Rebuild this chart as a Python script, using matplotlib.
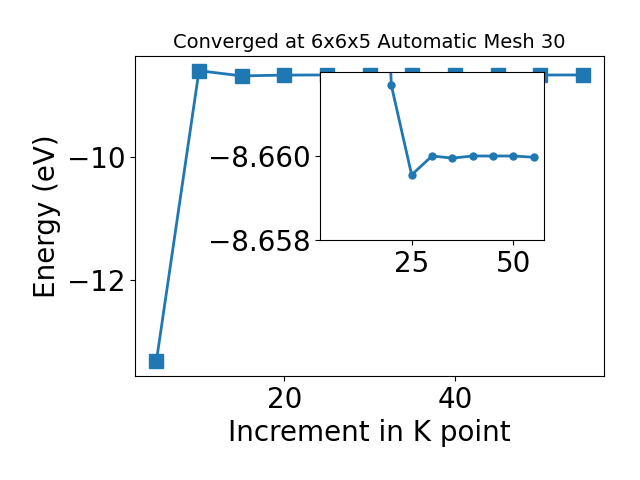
import matplotlib
matplotlib.use("Agg")
import matplotlib.pyplot as plt

# k-point increments and total energies (eV)
kpoints = [5, 10, 15, 20, 25, 30, 35, 40, 45, 50, 55]
energy = [-13.33, -8.59, -8.675, -8.66169, -8.65955, -8.66000,
          -8.65995, -8.66000, -8.66000, -8.66000, -8.65997]

fig = plt.figure(figsize=(6.4, 4.8), dpi=100)
ax = fig.add_subplot(111)
ax.plot(kpoints, energy, marker="s", markersize=10, linewidth=2, color="#1f77b4")
ax.set_title("Converged at 6x6x5 Automatic Mesh 30", fontsize=14)
ax.set_xlabel("Increment in K point", fontsize=20)
ax.set_ylabel("Energy (eV)", fontsize=20)
ax.set_xticks([20, 40])
ax.set_yticks([-12, -10])
ax.tick_params(labelsize=20)
fig.subplots_adjust(left=0.211, right=0.944, top=0.883, bottom=0.217)

# zoomed inset on the converged region (first two points left out)
ins = fig.add_axes([0.5, 0.5, 0.35, 0.35])
ins.plot(kpoints[2:], energy[2:], marker="o", markersize=5, linewidth=2, color="#1f77b4")
ins.set_xlim(ax.get_xlim())
ins.set_ylim(-8.658, -8.662)
ins.set_xticks([25, 50])
ins.set_yticks([-8.658, -8.660])
ins.tick_params(labelsize=20)

fig.savefig("out.png", dpi=100)
